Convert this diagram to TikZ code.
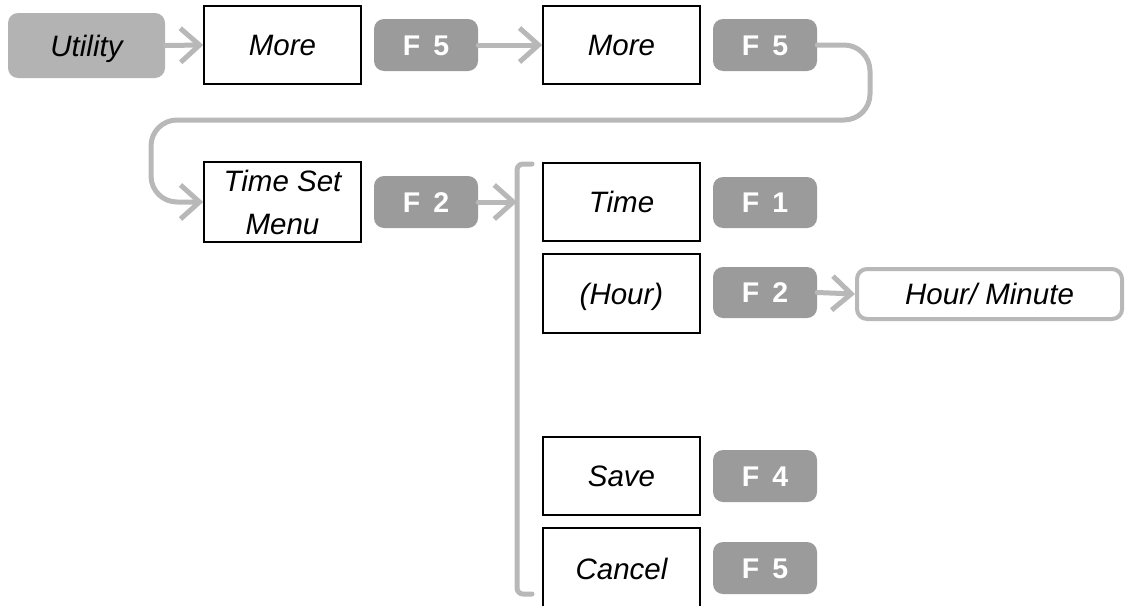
\documentclass[tikz,border=0pt]{standalone}
\usepackage{fontspec}
\setmainfont{Liberation Sans}
\usetikzlibrary{arrows.meta}
\definecolor{keygray}{HTML}{9B9B9B}
\definecolor{lightgray2}{HTML}{B3B3B3}
\definecolor{conngray}{HTML}{B8B8B8}
\tikzset{
  menubox/.style={draw=black, line width=1.5pt, fill=white, minimum width=157pt, minimum height=78pt, inner sep=0pt,
    font=\itshape\fontsize{29.5}{35}\selectfont, text height=21pt, text depth=0pt},
  fkey/.style={fill=keygray, rounded corners=10pt, minimum width=104pt, minimum height=52pt, inner sep=0pt,
    text=white, font=\bfseries\fontsize{28.5}{34}\selectfont, text height=20pt, text depth=0pt},
  conn/.style={draw=conngray, line width=5pt, line cap=round, line join=round,
    -{Straight Barb[length=19pt,width=34pt,line width=5pt]}},
  conn0/.style={draw=conngray, line width=5pt, line cap=round, line join=round},
}
\begin{document}
\begin{tikzpicture}[x=1pt,y=-1pt]
\useasboundingbox (0,0) rectangle (1126,605);
% top row
\node[fill=lightgray2, rounded corners=10pt, minimum width=157pt, minimum height=65pt, inner sep=0pt,
  font=\itshape\fontsize{29.5}{35}\selectfont, text height=21pt, text depth=0pt] (util) at (86.5,45.5) {Utility};
\node[menubox] (more1) at (282.5,45) {More};
\node[fkey] (f5a) at (426,45) {F\hspace{13pt}5};
\node[menubox] (more2) at (621.5,45) {More};
\node[fkey] (f5b) at (765,45) {F\hspace{13pt}5};
% second row
\node[menubox, minimum height=80pt, align=center, text height=, text depth=, font=\itshape\fontsize{29.5}{43}\selectfont] (tsm) at (282.5,202) {Time Set\\Menu};
\node[fkey] (f2a) at (426,202) {F\hspace{13pt}2};
% bracket
\coordinate (brk) at (517,202);
\draw[conn0, rounded corners=6pt] (532,164) -- (517,164) -- (517,594) -- (532,594);
% submenu
\node[menubox] (time) at (621.5,202) {Time};
\node[fkey, minimum height=51pt] (f1) at (765,202.5) {F\hspace{13pt}1};
\node[menubox, minimum height=79pt] (hour) at (621.5,293.5) {(Hour)};
\node[fkey, minimum height=51pt] (f2b) at (765,292.5) {F\hspace{13pt}2};
\node[draw=conngray, line width=4pt, fill=white, rounded corners=10pt, minimum width=265pt, minimum height=50pt, inner sep=0pt,
  font=\itshape\fontsize{29.5}{35}\selectfont, text height=21pt, text depth=0pt] (hm) at (989.5,294) {Hour/ Minute};
\node[menubox] (save) at (621.5,476) {Save};
\node[fkey] (f4) at (765,476) {F\hspace{13pt}4};
\node[menubox, minimum height=82pt, text height=, text depth=] (cancel) at (621.5,569) {Cancel};
\node[fkey] (f5c) at (765,568) {F\hspace{13pt}5};
% connectors
\draw[conn] (util.east) -- (more1.west);
\draw[conn] (f5a.east) -- (more2.west);
\draw[conn, rounded corners=26pt] (f5b.east) -- (870,45) -- (870,120) -- (151,120) -- (151,202) -- (tsm.west);
\draw[conn] (f2a.east) -- (brk);
\draw[conn] (f2b.east) -- (hm.west);
\end{tikzpicture}
\end{document}
